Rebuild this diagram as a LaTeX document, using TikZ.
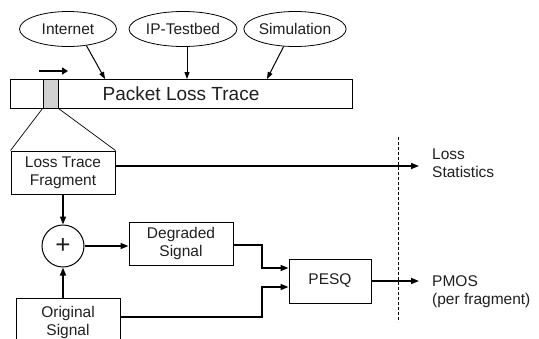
\documentclass[tikz,border=0pt]{standalone}
\usepackage{fontspec}
\setmainfont{Liberation Sans}
\usetikzlibrary{shapes.geometric,arrows.meta}
\begin{document}
\begin{tikzpicture}[x=1pt,y=-1pt,
  every node/.style={font=\fontsize{15.5}{18}\selectfont, text=black!88},
  src/.style={draw, ellipse, line width=0.8pt, inner sep=0pt},
  blk/.style={draw, rectangle, line width=1pt, inner sep=0pt, align=center},
  thinarr/.style={line width=1pt, -{Triangle[length=7pt,width=5pt]}},
  arr/.style={line width=1.6pt, -{Triangle[length=8pt,width=6pt]}},
  ln/.style={line width=1.6pt}]
\useasboundingbox (0,0) rectangle (539,338);
% sources
\node[src, minimum width=97pt, minimum height=35pt] (internet) at (68,29) {Internet};
\node[src, minimum width=108pt, minimum height=35pt] (iptb) at (183,29) {IP-Testbed};
\node[src, minimum width=95pt, minimum height=35pt] (sim) at (295,29) {Simulation};
% trace bar
\node[blk, minimum width=342pt, minimum height=29pt, font=\fontsize{19}{22}\selectfont] (trace) at (181,93.5) {Packet Loss Trace};
\node[draw, line width=0.8pt, fill=black!18, minimum width=15pt, minimum height=29pt, inner sep=0pt] (win) at (50.5,93.5) {};
\coordinate (tin1) at (105,79);
\coordinate (tin2) at (187,79);
\coordinate (tin3) at (267,79);
\draw[thinarr] (internet.318) -- (tin1);
\draw[thinarr] (iptb.south -| tin2) -- (tin2);
\draw[thinarr] (sim.237) -- (tin3);
% moving arrow
\coordinate (mv1) at (39,71);
\coordinate (mv2) at (68,71);
\draw[line width=2.6pt, -{Triangle[length=6pt,width=7pt]}] (mv1) -- (mv2);
% fragment
\node[blk, minimum width=104pt, minimum height=43pt] (frag) at (63,172.5) {Loss Trace\\Fragment};
\draw[line width=0.7pt] (win.south west) -- (frag.north west);
\draw[line width=0.7pt] (win.south east) -- (frag.north east);
% dashed separator
\coordinate (d1) at (398,137);
\coordinate (d2) at (398,322);
\draw[line width=0.7pt, dash pattern=on 3pt off 2pt] (d1) -- (d2);
% outputs
\node[anchor=west, align=left, inner sep=0pt] (stat) at (432,163) {Loss\\Statistics};
\node[anchor=west, align=left, inner sep=0pt] (pmos) at (432,292) {PMOS\\(per fragment)};
\coordinate (statin) at (419,166);
\coordinate (pmosin) at (419,281);
\draw[arr] (frag.east |- statin) -- (statin);
% adder
\node[draw, circle, line width=1pt, minimum size=42pt, inner sep=0pt, font=\fontsize{26}{26}\selectfont] (plus) at (63,246) {+};
\draw[arr] (frag.south -| plus) -- (plus.north);
\node[blk, minimum width=104pt, minimum height=43pt] (deg) at (181,243.5) {Degraded\\Signal};
\draw[arr] (plus.east) -- (deg.west |- plus.east);
\node[blk, minimum width=104pt, minimum height=48pt] (orig) at (68,322) {Original\\Signal};
\draw[arr] (orig.north -| plus) -- (plus.south);
% PESQ
\node[blk, minimum width=82pt, minimum height=44pt] (pesq) at (330,281) {PESQ};
\coordinate (j1) at (262,245);
\coordinate (j2) at (262,268);
\coordinate (j3) at (262,317);
\coordinate (j4) at (262,287);
\draw[arr] (deg.east |- j1) -- (j1) -- (j2) -- (pesq.west |- j2);
\draw[arr] (orig.east |- j3) -- (j3) -- (j4) -- (pesq.west |- j4);
\draw[arr] (pesq.east) -- (pmosin);
\end{tikzpicture}
\end{document}
